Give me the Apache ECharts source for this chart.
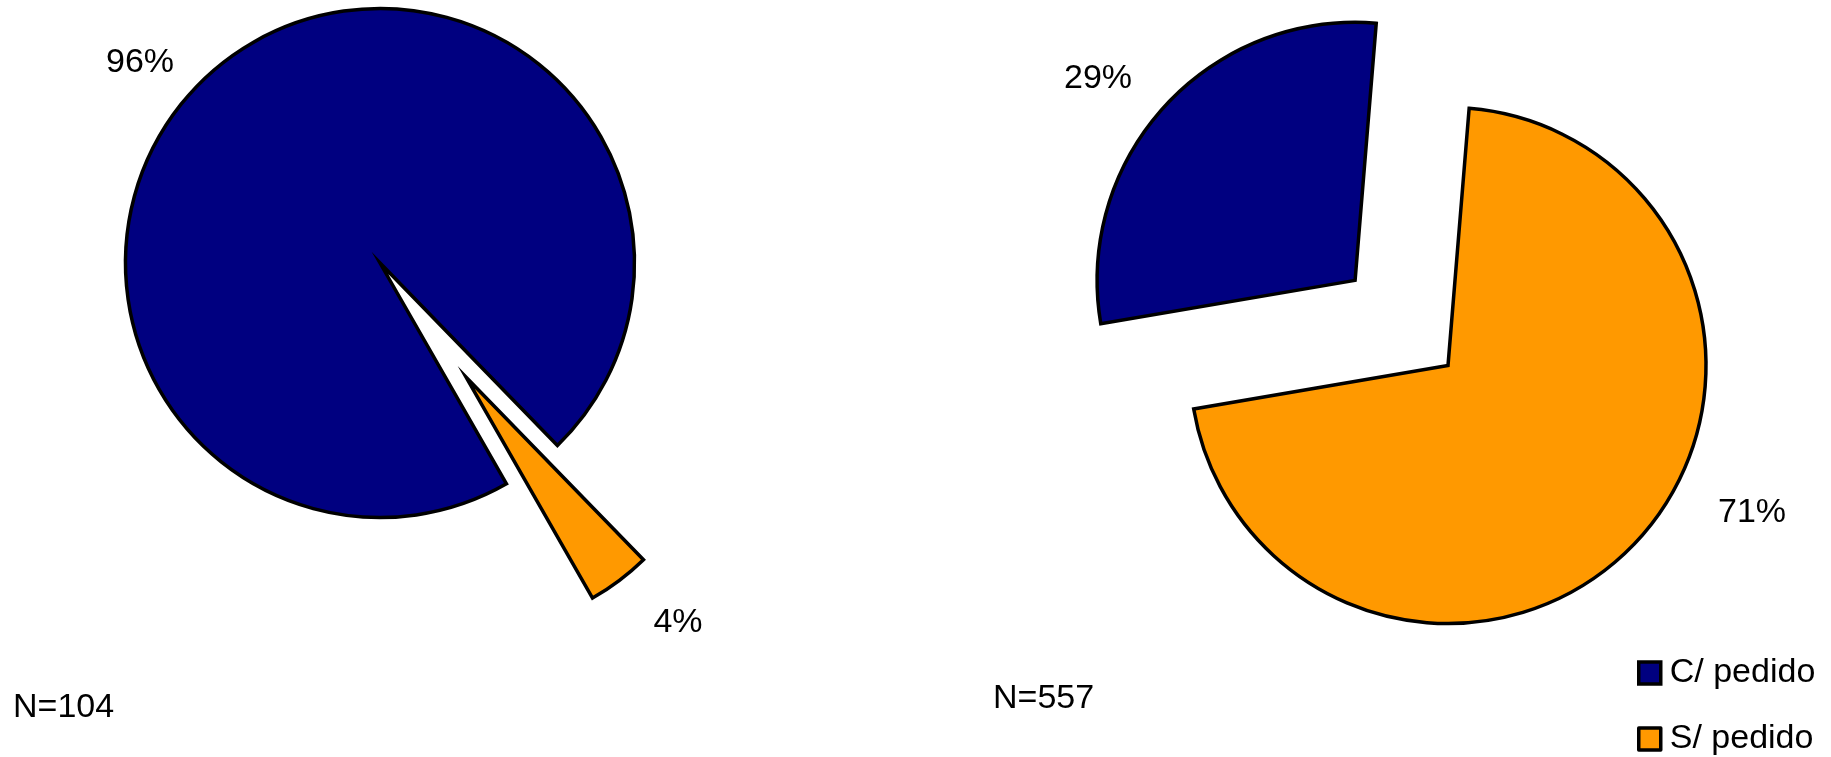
<!DOCTYPE html>
<html>
<head>
<meta charset="utf-8">
<script src="https://cdn.jsdelivr.net/npm/echarts@6/dist/echarts.min.js"></script>
<style>
  html, body { margin: 0; padding: 0; background: #ffffff; }
  #chart { width: 1831px; height: 757px; }
</style>
</head>
<body>
<div id="chart"></div>
<script>
// Share of orders with and without a prior request, two samples
const categories = ['C/ pedido', 'S/ pedido'];
const sampleSizes = [104, 557];
const cPedido = [96, 29];   // percent, per sample
const sPedido = [4, 71];    // percent, per sample

const colors = ['#000080', '#ff9900'];
const font = 'Liberation Sans, Arial, Helvetica, sans-serif';

// Pie geometry for each sample: which slice is pulled out and by how much,
// plus where the percentage labels and the sample size text sit
const layouts = [
  { center: [380, 263], radius: 254.5, startAngle: 299.8, offset: 143, explode: 1,
    labels: [[140, 63], [678, 623]], nPos: [13, 708] },
  { center: [1448, 365.5], radius: 258, startAngle: 189.7, offset: 126, explode: 0,
    labels: [[1098, 79], [1752, 513]], nPos: [993, 699] }
];

const series = [];
layouts.forEach((L, s) => {
  const values = [cPedido[s], sPedido[s]];
  const total = values[0] + values[1];
  // Each slice is its own pie series so the pulled-out one can use a shifted centre
  values.forEach((v, k) => {
    let c = L.center;
    if (k === L.explode) {
      const before = values.slice(0, k).reduce((a, b) => a + b, 0);
      const mid = (L.startAngle - (before + v / 2) / total * 360) * Math.PI / 180;
      c = [L.center[0] + L.offset * Math.cos(mid), L.center[1] - L.offset * Math.sin(mid)];
    }
    series.push({
      type: 'pie',
      center: c,
      radius: L.radius,
      startAngle: L.startAngle,
      clockwise: true,
      silent: true,
      avoidLabelOverlap: false,
      animation: false,
      emphasis: { disabled: true, scale: false },
      labelLine: { show: false },
      labelLayout: () => ({
        x: L.labels[k][0],
        y: L.labels[k][1],
        align: 'center',
        verticalAlign: 'middle'
      }),
      data: values.map((val, j) => j === k ? {
        name: categories[j], value: val,
        itemStyle: { color: colors[j], borderColor: '#000000', borderWidth: 3.5, borderJoin: 'miter' },
        label: {
          show: true, position: 'outside', formatter: '{c}%',
          color: '#000000', fontFamily: font, fontSize: 34
        }
      } : {
        name: categories[j], value: val,
        itemStyle: { color: 'rgba(0,0,0,0)', borderWidth: 0 },
        label: { show: false }
      })
    });
  });
});

const chart = echarts.init(document.getElementById('chart'), null, { renderer: 'canvas' });
chart.setOption({
  backgroundColor: '#ffffff',
  animation: false,
  legend: {
    data: categories.map((name, i) => ({
      name: name,
      itemStyle: { color: colors[i], borderColor: '#000000', borderWidth: 3.5 }
    })),
    orient: 'vertical',
    left: 1637,
    top: 656,
    height: 101,
    padding: 0,
    icon: 'rect',
    itemWidth: 22,
    itemHeight: 22,
    itemGap: 32,
    selectedMode: false,
    textStyle: { color: '#000000', fontFamily: font, fontSize: 34, lineHeight: 34, padding: [0, 0, 0, 4] }
  },
  graphic: layouts.map((L, s) => ({
    type: 'text',
    left: L.nPos[0],
    top: L.nPos[1] - 17,
    style: { text: 'N=' + sampleSizes[s], fill: '#000000', font: '34px ' + font }
  })),
  series: series
});
</script>
</body>
</html>
